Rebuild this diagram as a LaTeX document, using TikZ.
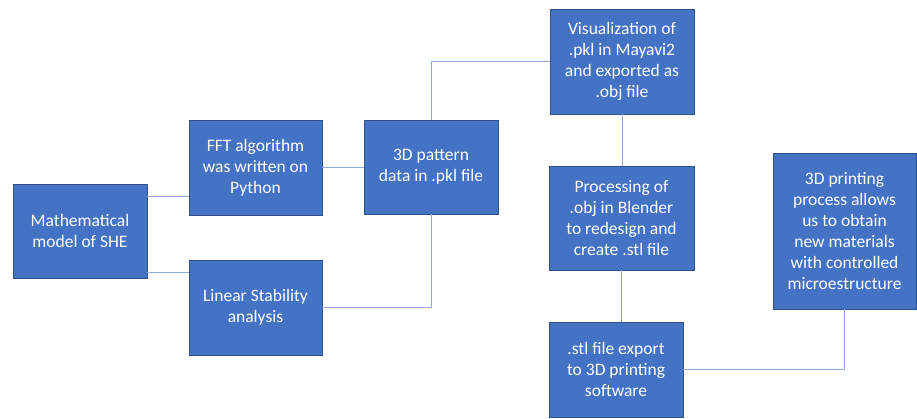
\documentclass[tikz,border=0pt]{standalone}
\usepackage{fontspec}
\setmainfont{Carlito}
\definecolor{boxfill}{HTML}{4472C4}
\definecolor{boxline}{HTML}{2F528F}
\definecolor{conn}{HTML}{8EA9DB}
\begin{document}
\begin{tikzpicture}[x=1pt,y=-1pt,
  stepbox/.style={draw=boxline,line width=0.8pt,fill=boxfill,text=white,align=center,
    inner sep=0pt,font=\fontsize{17.5}{21}\selectfont},
  link/.style={draw=conn,line width=1pt}]
\useasboundingbox (0,0) rectangle (917,418);
\node[stepbox,minimum width=134,minimum height=94] (math) at (80,231) {Mathematical\\model of SHE};
\node[stepbox,minimum width=133,minimum height=95] (fft) at (255.5,167.5) {FFT algorithm\\was written on\\Python};
\node[stepbox,minimum width=133,minimum height=95] (lin) at (255.5,307.5) {Linear Stability\\analysis};
\node[stepbox,minimum width=134,minimum height=94] (pat) at (431,167) {3D pattern\\data in .pkl file};
\node[stepbox,minimum width=144,minimum height=105] (vis) at (622,61.5) {Visualization of\\.pkl in Mayavi2\\and exported as\\.obj file};
\node[stepbox,minimum width=145,minimum height=104] (proc) at (621.5,218) {Processing of\\.obj in Blender\\to redesign and\\create .stl file};
\node[stepbox,minimum width=134,minimum height=95] (stl) at (616,369.5) {.stl file export\\to 3D printing\\software};
\node[stepbox,minimum width=143,minimum height=156] (print) at (844.5,231) {3D printing\\process allows\\us to obtain\\new materials\\with controlled\\microestructure};
\draw[link] (math.east |- 0,196) -- (fft.west |- 0,196);
\draw[link] (math.east |- 0,272) -- (lin.west |- 0,272);
\draw[link] (fft.east) -- (fft.east -| pat.west);
\draw[link] (lin.east |- 0,307) -| (pat.south);
\draw[link] (pat.north) |- (vis.west);
\draw[link] (vis.south) -- (vis.south |- proc.north);
\draw[link] (proc.south) -- (proc.south |- stl.north);
\draw[link] (stl.east) -| (print.south);
\end{tikzpicture}
\end{document}
